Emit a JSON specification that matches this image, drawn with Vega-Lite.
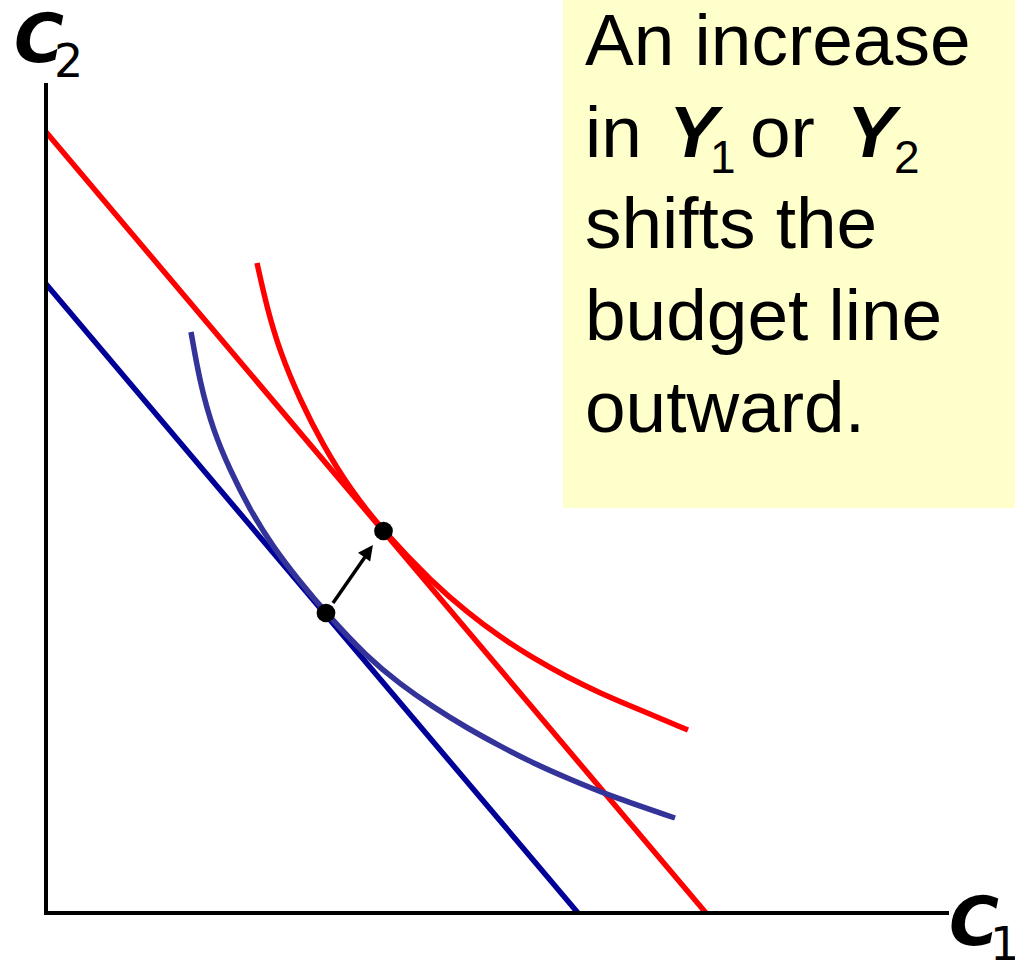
{
  "$schema": "https://vega.github.io/schema/vega-lite/v6.json",
  "width": 1015,
  "height": 962,
  "padding": 0,
  "autosize": {"type": "none"},
  "background": "white",
  "config": {"view": {"stroke": null}},
  "datasets": {
    "box": [{"x": 517, "x2": 969, "y": 913, "y2": 405}],
    "axes": [
      {"x": 0, "y": 0, "x2": 0, "y2": 828},
      {"x": 0, "y": 0, "x2": 901, "y2": 0}
    ],
    "curves": [
      {"curve": "budget0", "c1": 0, "c2": 629},
      {"curve": "budget0", "c1": 532, "c2": 0},
      {"curve": "budget1", "c1": 0, "c2": 781},
      {"curve": "budget1", "c1": 660, "c2": 0},
      {"curve": "ic0", "c1": 145, "c2": 581},
      {"curve": "ic0", "c1": 154, "c2": 530},
      {"curve": "ic0", "c1": 167, "c2": 483},
      {"curve": "ic0", "c1": 184, "c2": 443},
      {"curve": "ic0", "c1": 204, "c2": 403},
      {"curve": "ic0", "c1": 227, "c2": 366},
      {"curve": "ic0", "c1": 254, "c2": 331},
      {"curve": "ic0", "c1": 280, "c2": 300},
      {"curve": "ic0", "c1": 321, "c2": 256},
      {"curve": "ic0", "c1": 354, "c2": 229},
      {"curve": "ic0", "c1": 387, "c2": 206},
      {"curve": "ic0", "c1": 421, "c2": 185},
      {"curve": "ic0", "c1": 454, "c2": 167},
      {"curve": "ic0", "c1": 487, "c2": 150},
      {"curve": "ic0", "c1": 521, "c2": 135},
      {"curve": "ic0", "c1": 564, "c2": 117},
      {"curve": "ic0", "c1": 629, "c2": 95},
      {"curve": "ic1", "c1": 211, "c2": 650},
      {"curve": "ic1", "c1": 221, "c2": 605},
      {"curve": "ic1", "c1": 234, "c2": 561},
      {"curve": "ic1", "c1": 254, "c2": 513},
      {"curve": "ic1", "c1": 277, "c2": 468},
      {"curve": "ic1", "c1": 304, "c2": 424},
      {"curve": "ic1", "c1": 337, "c2": 382},
      {"curve": "ic1", "c1": 387, "c2": 330},
      {"curve": "ic1", "c1": 421, "c2": 301},
      {"curve": "ic1", "c1": 454, "c2": 276},
      {"curve": "ic1", "c1": 487, "c2": 255},
      {"curve": "ic1", "c1": 521, "c2": 236},
      {"curve": "ic1", "c1": 554, "c2": 220},
      {"curve": "ic1", "c1": 587, "c2": 206},
      {"curve": "ic1", "c1": 642, "c2": 183}
    ],
    "arrow": [{"x": 287, "y": 310, "x2": 319, "y2": 356}],
    "head": [{"x": 322.5, "y": 362}],
    "points": [{"c1": 280, "c2": 300}, {"c1": 337.5, "c2": 382}],
    "body": [
      {"x": 539, "y": 848, "t": "An increase"},
      {"x": 539, "y": 756, "t": "in"},
      {"x": 704, "y": 756, "t": "or"},
      {"x": 539, "y": 665, "t": "shifts the"},
      {"x": 539, "y": 573, "t": "budget line"},
      {"x": 539, "y": 481, "t": "outward."}
    ],
    "ybold": [
      {"x": 623, "y": 756, "t": "Y"},
      {"x": 801, "y": 756, "t": "Y"}
    ],
    "ysub": [
      {"x": 664, "y": 740, "t": "1"},
      {"x": 848, "y": 740, "t": "2"}
    ],
    "clab": [
      {"x": -32, "y": 851, "t": "C"},
      {"x": 903, "y": -32, "t": "C"}
    ],
    "csub": [
      {"x": 8, "y": 836, "t": "2"},
      {"x": 944, "y": -47, "t": "1"}
    ]
  },
  "layer": [
    {
      "data": {"name": "box"},
      "mark": {"type": "rect", "fill": "#FFFFCC", "stroke": null},
      "encoding": {
        "x": {"field": "x", "type": "quantitative", "scale": {"domain": [-46, 969], "nice": false, "zero": false}, "axis": null},
        "x2": {"field": "x2"},
        "y": {"field": "y", "type": "quantitative", "scale": {"domain": [-49, 913], "nice": false, "zero": false}, "axis": null},
        "y2": {"field": "y2"}
      }
    },
    {
      "data": {"name": "curves"},
      "mark": {"type": "line", "strokeWidth": 5.5, "interpolate": "basis", "strokeCap": "butt"},
      "encoding": {
        "x": {"field": "c1", "type": "quantitative", "axis": null},
        "y": {"field": "c2", "type": "quantitative", "axis": null},
        "detail": {"field": "curve"},
        "color": {
          "field": "curve",
          "type": "nominal",
          "scale": {"domain": ["budget0", "budget1", "ic0", "ic1"], "range": ["#000099", "#FF0000", "#333399", "#FF0000"]},
          "legend": null
        }
      }
    },
    {
      "data": {"name": "axes"},
      "mark": {"type": "rule", "stroke": "black", "strokeWidth": 4, "strokeCap": "square"},
      "encoding": {
        "x": {"field": "x", "type": "quantitative", "axis": null},
        "x2": {"field": "x2"},
        "y": {"field": "y", "type": "quantitative", "axis": null},
        "y2": {"field": "y2"}
      }
    },
    {
      "data": {"name": "arrow"},
      "mark": {"type": "rule", "stroke": "black", "strokeWidth": 3.5},
      "encoding": {
        "x": {"field": "x", "type": "quantitative", "axis": null},
        "x2": {"field": "x2"},
        "y": {"field": "y", "type": "quantitative", "axis": null},
        "y2": {"field": "y2"}
      }
    },
    {
      "data": {"name": "head"},
      "mark": {"type": "point", "shape": "M0,-1L-1,1L1,1Z", "filled": true, "fill": "black", "stroke": null, "opacity": 1, "size": 225, "angle": 36},
      "encoding": {
        "x": {"field": "x", "type": "quantitative", "axis": null},
        "y": {"field": "y", "type": "quantitative", "axis": null}
      }
    },
    {
      "data": {"name": "points"},
      "mark": {"type": "circle", "fill": "black", "opacity": 1, "size": 350},
      "encoding": {
        "x": {"field": "c1", "type": "quantitative", "axis": null},
        "y": {"field": "c2", "type": "quantitative", "axis": null}
      }
    },
    {
      "data": {"name": "body"},
      "mark": {"type": "text", "font": "Liberation Sans", "fontSize": 73, "align": "left", "baseline": "alphabetic", "color": "black"},
      "encoding": {
        "x": {"field": "x", "type": "quantitative", "axis": null},
        "y": {"field": "y", "type": "quantitative", "axis": null},
        "text": {"field": "t"}
      }
    },
    {
      "data": {"name": "ybold"},
      "mark": {"type": "text", "font": "Liberation Sans", "fontSize": 73, "fontWeight": "bold", "fontStyle": "italic", "align": "left", "baseline": "alphabetic", "color": "black"},
      "encoding": {
        "x": {"field": "x", "type": "quantitative", "axis": null},
        "y": {"field": "y", "type": "quantitative", "axis": null},
        "text": {"field": "t"}
      }
    },
    {
      "data": {"name": "ysub"},
      "mark": {"type": "text", "font": "Liberation Sans", "fontSize": 46, "align": "left", "baseline": "alphabetic", "color": "black"},
      "encoding": {
        "x": {"field": "x", "type": "quantitative", "axis": null},
        "y": {"field": "y", "type": "quantitative", "axis": null},
        "text": {"field": "t"}
      }
    },
    {
      "data": {"name": "clab"},
      "mark": {"type": "text", "font": "DejaVu Sans", "fontSize": 68, "fontWeight": "bold", "fontStyle": "italic", "align": "left", "baseline": "alphabetic", "color": "black"},
      "encoding": {
        "x": {"field": "x", "type": "quantitative", "axis": null},
        "y": {"field": "y", "type": "quantitative", "axis": null},
        "text": {"field": "t"}
      }
    },
    {
      "data": {"name": "csub"},
      "mark": {"type": "text", "font": "DejaVu Sans", "fontSize": 46, "align": "left", "baseline": "alphabetic", "color": "black"},
      "encoding": {
        "x": {"field": "x", "type": "quantitative", "axis": null},
        "y": {"field": "y", "type": "quantitative", "axis": null},
        "text": {"field": "t"}
      }
    }
  ]
}
